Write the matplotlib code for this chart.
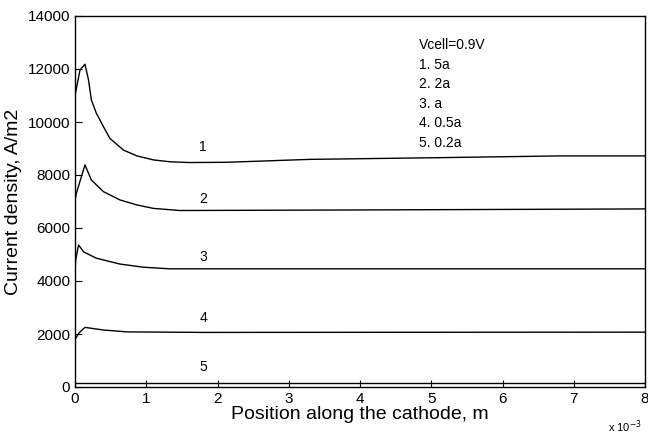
import matplotlib
matplotlib.use("Agg")
import matplotlib.pyplot as plt
import numpy as np

plt.rcParams['font.family'] = ['Liberation Sans', 'DejaVu Sans']

# x in 1e-3 m, current density in A/m2
x1 = [0, 0.01, 0.07, 0.14, 0.19, 0.23, 0.30, 0.40, 0.49, 0.68, 0.87, 1.1, 1.33, 1.6, 2.13, 3.3, 5.0, 6.8, 8.0]
y1 = [11000, 11140, 11960, 12180, 11580, 10830, 10330, 9820, 9380, 8940, 8720, 8570, 8500, 8470, 8480, 8590, 8650, 8720, 8720]

x2 = [0, 0.02, 0.14, 0.23, 0.4, 0.63, 0.87, 1.1, 1.47, 3.9, 8.0]
y2 = [7050, 7320, 8380, 7810, 7370, 7060, 6870, 6740, 6660, 6680, 6720]

x3 = [0, 0.01, 0.05, 0.12, 0.3, 0.63, 0.96, 1.33, 8.0]
y3 = [4300, 4800, 5360, 5100, 4860, 4640, 4520, 4460, 4460]

x4 = [0, 0.06, 0.14, 0.4, 0.73, 1.8, 8.0]
y4 = [1800, 2050, 2250, 2150, 2080, 2060, 2070]

x5 = [0, 8.0]
y5 = [150, 150]

curve_labels = ['1', '2', '3', '4', '5']
label_x = [1.8, 1.8, 1.8, 1.8, 1.8]
label_y = [9050, 7100, 4900, 2620, 750]

legend_lines = ['Vcell=0.9V', '1. 5a', '2. 2a', '3. a', '4. 0.5a', '5. 0.2a']

fig = plt.figure(figsize=(6.48, 4.34), dpi=100)
ax = fig.add_axes([75/648, 1 - 387/434, (645-75)/648, (387-16)/434])

for xs, ys in [(x1, y1), (x2, y2), (x3, y3), (x4, y4), (x5, y5)]:
    ax.plot(xs, ys, color='black', lw=1.0)

for t, lx, ly in zip(curve_labels, label_x, label_y):
    ax.text(lx, ly, t, fontsize=10, ha='center', va='center')

ax.text(0.603, 0.94, '\n'.join(legend_lines), transform=ax.transAxes,
        fontsize=10, va='top', ha='left', linespacing=1.5)

ax.set_xlim(0, 8)
ax.set_ylim(0, 14000)
ax.set_xticks(range(0, 9))
ax.set_yticks(range(0, 14001, 2000))
ax.tick_params(direction='in', labelsize=11, length=5, top=False, right=False)
for s in ax.spines.values():
    s.set_linewidth(1.0)

ax.set_xlabel('Position along the cathode, m', fontsize=14, labelpad=0)
ax.set_ylabel('Current density, A/m2', fontsize=14, labelpad=4)
fig.text(608/648, 1 - 427/434, r'x 10$^{-3}$', fontsize=8, ha='left', va='center')

fig.savefig('out.png', dpi=100)
